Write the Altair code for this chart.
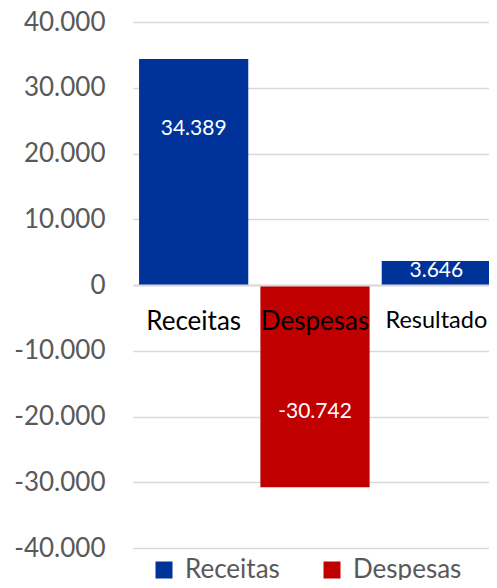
import altair as alt
import pandas as pd

categories = ["Receitas", "Despesas", "Resultado"]
values = [34389, -30742, 3646]
series = ["Receitas", "Despesas", "Receitas"]
label_at = [23700, -19300, 2150]
y_ticks = [-40000, -30000, -20000, -10000, 0, 10000, 20000, 30000, 40000]
legend_names = ["Receitas", "Despesas"]
legend_colors = ["#003399", "#C00000"]


def br(v):
    s = f"{abs(v):,}".replace(",", ".")
    return ("-" if v < 0 else "") + s


df = pd.DataFrame({
    "cat": categories,
    "value": values,
    "series": series,
    "label_at": label_at,
    "label": [br(v) for v in values],
})

FONT = "Lato"
GRAY = "#595959"

x_axis = alt.Axis(title=None, orient="bottom", offset=-263, labelAngle=0,
                  labelFontSize={"condition": {"test": "datum.value == 'Resultado'", "value": 23.5},
                                 "value": 26},
                  labelColor="black", labelPadding=23,
                  ticks=False, tickSize=0, domainColor="#d9d9d9", domainWidth=2,
                  zindex=1, labelFont=FONT)
x_scale = alt.Scale(paddingInner=0.1, paddingOuter=0.05)

y_axis = alt.Axis(values=y_ticks, title=None, domain=False, ticks=False, tickSize=0,
                  labelFontSize=26, labelColor=GRAY, labelPadding=28,
                  gridColor="#d9d9d9", gridWidth=1.5, labelFont=FONT,
                  labelExpr="(datum.value < 0 ? '-' : '') + replace(format(abs(datum.value), ','), ',', '.')")
y_scale = alt.Scale(domain=[-40000, 40000], nice=False, zero=True)

bars = alt.Chart(df).mark_bar().encode(
    x=alt.X("cat:N", sort=categories, scale=x_scale, axis=x_axis),
    y=alt.Y("value:Q", scale=y_scale, axis=y_axis),
    color=alt.Color(
        "series:N",
        scale=alt.Scale(domain=legend_names, range=legend_colors),
        legend=alt.Legend(title=None, orient="none", legendX=18, legendY=535,
                          direction="horizontal", symbolType="square",
                          symbolSize=289, symbolStrokeWidth=0,
                          labelFontSize=26, labelColor=GRAY, labelFont=FONT,
                          labelOffset=8, columnPadding=39),
    ),
)

texts = alt.Chart(df).mark_text(color="white", fontSize=21, font=FONT, baseline="middle").encode(
    x=alt.X("cat:N", sort=categories, scale=x_scale, axis=x_axis),
    y=alt.Y("label_at:Q", scale=y_scale, axis=y_axis),
    text="label:N",
)

chart = alt.layer(bars, texts).properties(
    width=364, height=526,
    autosize=alt.AutoSizeParams(type="none"),
    padding={"left": 125, "top": 14, "right": -8, "bottom": 32},
).configure(font=FONT).configure_view(stroke=None)

chart.save("out.html", embed_options={"renderer": "svg", "actions": False})
